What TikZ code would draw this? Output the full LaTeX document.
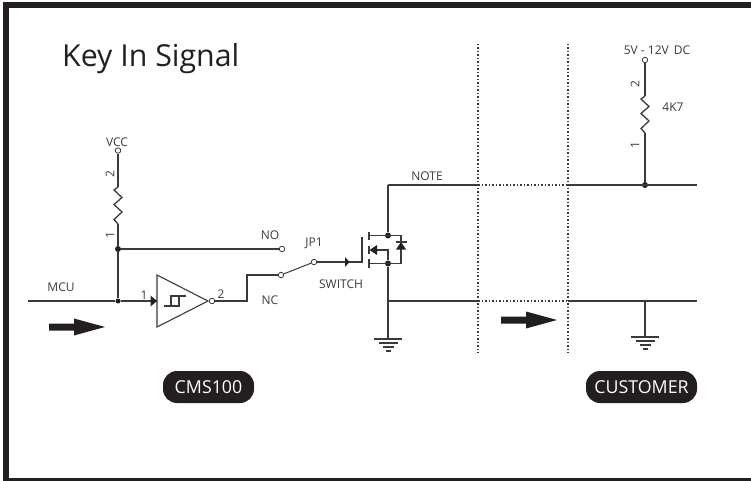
\documentclass[tikz,border=0pt]{standalone}
\usepackage{fontspec}
\setmainfont{Open Sans}
\usetikzlibrary{arrows.meta}
\definecolor{ink}{HTML}{3A3A3A}
\definecolor{pill}{HTML}{231F20}
\tikzset{
  x=1pt,y=-1pt,
  wire/.style={draw=ink,line width=1.3pt},
  lbl/.style={font=\fontsize{12}{14}\selectfont,text=ink,inner sep=0pt},
  dotj/.style={circle,fill=pill,inner sep=0pt,minimum size=6pt},
  term/.style={circle,draw=ink,fill=white,line width=0.8pt,inner sep=0pt,minimum size=5.5pt},
  bound/.style={draw=ink,line width=1.2pt,dash pattern=on 1.5pt off 2pt},
  pillbox/.style={fill=pill,text=white,rounded corners=14pt,inner sep=0pt,minimum height=32pt,font=\fontsize{17.8}{20}\selectfont},
  bigarrow/.style={fill=pill,draw=none},
  gnd/.style={draw=ink,line width=1.1pt},
}
\newcommand{\groundsym}[2]{%
  \draw[gnd] (#1-14,#2) -- (#1+14,#2);
  \draw[gnd] (#1-9.5,#2+4) -- (#1+9.5,#2+4);
  \draw[gnd] (#1-5.5,#2+8) -- (#1+5.5,#2+8);
  \draw[gnd] (#1-2.5,#2+12) -- (#1+2.5,#2+12);
}
\newcommand{\bigarr}[2]{%
  \fill[bigarrow] (#1,#2-3.5) -- (#1+25,#2-3.5) -- (#1+25,#2-8.5) -- (#1+56,#2) -- (#1+25,#2+8.5) -- (#1+25,#2+3.5) -- (#1,#2+3.5) -- cycle;
}
\newcommand{\zigv}[2]{% x, ytop : 37 tall zigzag
  (#1,#2) -- (#1-4,#2+3) -- (#1+4,#2+10.5) -- (#1-4,#2+17.5) -- (#1+4,#2+25) -- (#1-4,#2+32.5) -- (#1,#2+37)
}
\begin{document}
\begin{tikzpicture}
\useasboundingbox (0,0) rectangle (751,481);
\fill[pill] (3,2.5) rectangle (751,8);
\fill[pill] (3,2.5) rectangle (9,481);
\fill[pill] (3,478) rectangle (751,481);
\node[anchor=west,inner sep=0pt,font=\fontsize{30.3}{34}\selectfont,text=pill] (title) at (62,59) {Key In Signal};

% left network
\node[term] (vcc) at (118,150.5) {};
\coordinate (rt) at (118,187);
\coordinate (rb) at (118,224);
\node[dotj] (j1) at (118,249) {};
\node[dotj,minimum size=5pt] (j2) at (118,301) {};
\coordinate (mcuin) at (28,301);
\draw[wire] (vcc) -- (rt);
\draw[wire] (j1) -- (rb);
\draw[wire] \zigv{118}{187};
\draw[wire] (j1) -- (j2);
\draw[wire] (mcuin) -- (j2);
\node[term] (no) at (282,249) {};
\draw[wire] (j1) -- (no);
\node[lbl] (lvcc) at (117,142) {VCC};
\node[lbl,rotate=90] (l2a) at (110,174) {2};
\node[lbl,rotate=90] (l1a) at (110,235) {1};
\node[lbl] (lmcu) at (61,287) {MCU};
\node[lbl] (lno) at (270,235) {NO};
\node[lbl] (lnc) at (270,300) {NC};
\node[lbl] (ljp) at (314,243) {JP1};
\node[lbl] (lsw) at (341,284) {SWITCH};

% buffer
\draw[ink,line width=1.1pt,fill=white] (157,275) -- (208,301) -- (157,327) -- cycle;
\coordinate (bufin) at (157,301);
\node[term] (bufout) at (212,301) {};
\draw[wire] (j2) -- (bufin);
\fill[pill] (150.5,295.5) -- (157,301) -- (150.5,306.5) -- cycle;
\draw[ink,line width=1.1pt] (164,306) -- (180,306);
\draw[ink,line width=1.1pt] (171,306) -- (171,296) -- (186,296);
\draw[ink,line width=1.1pt] (179,306) -- (179,296);
\node[lbl] (lb1) at (144,295) {1};
\node[lbl] (lb2) at (221,294) {2};

% switch
\node[term] (nc) at (281,275) {};
\node[term] (com) at (314,262) {};
\coordinate (bend1) at (247,301);
\coordinate (bend2) at (247,275);
\draw[wire] (bufout) -- (bend1) -- (bend2) -- (nc);
\draw[ink,line width=1pt] (nc) -- (com);
% mosfet
\coordinate (gate) at (362,262);
\draw[wire] (com) -- (gate) -- (362,237);
\fill[pill] (345,257) -- (349.5,262) -- (345,267) -- cycle;
\draw[line width=1.6pt,ink] (369,232) -- (369,240);
\draw[line width=1.6pt,ink] (369,246) -- (369,254);
\draw[line width=1.6pt,ink] (369,259) -- (369,268);
\node[dotj] (jd) at (388,235.5) {};
\node[dotj] (js) at (388,263.5) {};
\coordinate (topc) at (388,185);
\coordinate (botc) at (388,301);
\draw[wire] (369,235.5) -- (401,235.5) -- (401,263.5) -- (369,263.5);
\draw[wire] (jd) -- (topc);
\draw[wire] (js) -- (botc);
\draw[wire] (372,250) -- (388,250) -- (js);
\fill[pill] (369.5,250) -- (377,245) -- (377,255) -- cycle;
\fill[pill] (396,249.5) -- (406,249.5) -- (401,242) -- cycle;
\draw[ink,line width=1.2pt] (395.5,242) -- (406.5,242);

% buses
\coordinate (ba) at (478,185);
\coordinate (bb) at (568,185);
\coordinate (bc) at (478,301);
\coordinate (bd) at (568,301);
\coordinate (re1) at (697,185);
\coordinate (re2) at (697,301);
\node[dotj] (j3) at (645,185) {};
\coordinate (g2a) at (645,301);
\coordinate (g2b) at (645,337);
\draw[wire] (topc) -- (ba);
\draw[wire] (bb) -- (re1);
\draw[wire] (botc) -- (bc);
\draw[wire] (bd) -- (re2);
\draw[bound] (ba) -- (bb);
\draw[bound] (bc) -- (bd);
\coordinate (d1t) at (478,44);
\coordinate (d1b) at (478,352.5);
\coordinate (d2t) at (568,44);
\coordinate (d2b) at (568,352.5);
\draw[bound] (d1t) -- (d1b);
\draw[bound] (d2t) -- (d2b);
\node[lbl] (lnote) at (427,176) {NOTE};

% ground
\coordinate (g1) at (388,339);
\draw[wire] (botc) -- (g1);
\groundsym{388}{339}
\draw[wire] (g2a) -- (g2b);
\groundsym{645}{337}

% right resistor
\node[term] (v5) at (645,60) {};
\draw[wire] (v5) -- (645,96);
\draw[wire] \zigv{645}{96};
\draw[wire] (645,133) -- (j3);
\node[lbl] (lv5) at (657,50) {5V - 12V\, DC};
\node[lbl] (l4k) at (673,107) {4K7};
\node[lbl,rotate=90] (l2b) at (635,84) {2};
\node[lbl,rotate=90] (l1b) at (635,145) {1};

% arrows
\bigarr{49}{327}
\bigarr{501}{320}

% pills
\node[pillbox,minimum width=91pt] (cms) at (208.5,387) {CMS100};
\node[pillbox,minimum width=111pt] (cust) at (641.5,387) {CUSTOMER};
\end{tikzpicture}
\end{document}
